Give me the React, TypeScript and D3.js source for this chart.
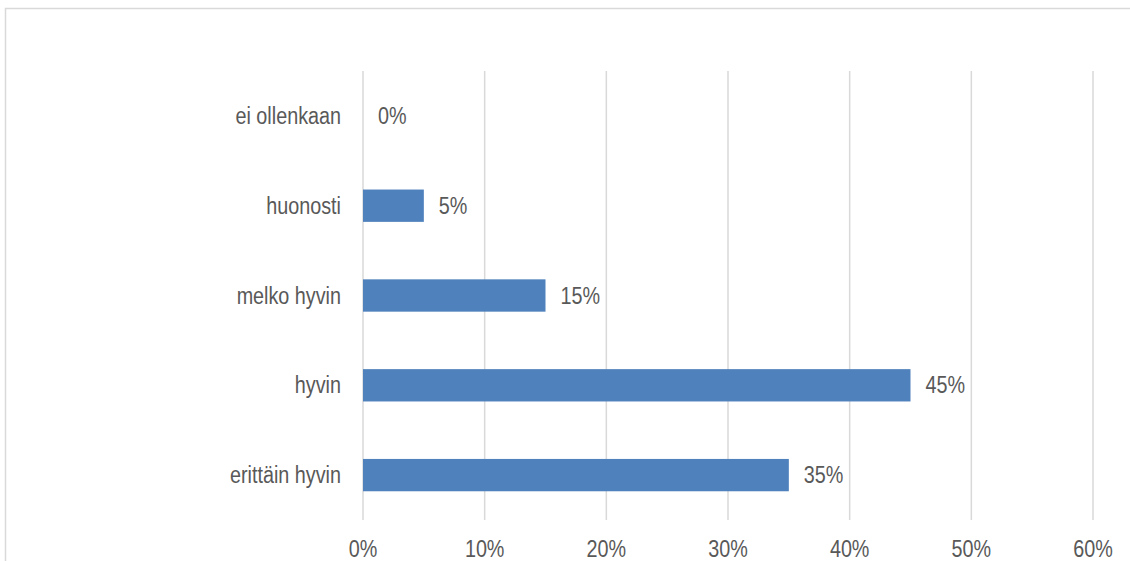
import React from "react";
import * as d3 from "d3";

const categories = ["ei ollenkaan", "huonosti", "melko hyvin", "hyvin", "erittäin hyvin"];
const values = [0, 0.05, 0.15, 0.45, 0.35];
const ticks = [0, 0.1, 0.2, 0.3, 0.4, 0.5, 0.6];

const W = 1130;
const H = 561;
const FONT = "'Liberation Sans', Arial, sans-serif";
const SX = 0.86;

function T({ x, y, anchor, children }: { x: number; y: number; anchor?: string; children: React.ReactNode }) {
  return (
    <text
      transform={`translate(${x},${y}) scale(${SX},1)`}
      textAnchor={anchor || "start"}
      fontFamily={FONT}
      fontSize={23}
      fill="#595959"
    >
      {children}
    </text>
  );
}

export default function App() {
  const x = d3.scaleLinear().domain([0, 0.6]).range([363, 1093]);
  const y = d3.scaleBand<string>().domain(categories).range([71, 520]).paddingInner(0.64).paddingOuter(0.32);
  const fmt = d3.format(".0%");
  return (
    <svg width={W} height={H} style={{ position: "absolute", left: 0, top: 0, background: "#fff" }}>
      <rect x={5.5} y={8.5} width={1200} height={600} fill="#fff" stroke="#D9D9D9" strokeWidth={1.5} />
      {ticks.map((t) => (
        <g key={t}>
          <line x1={x(t)} x2={x(t)} y1={71} y2={520} stroke="#D9D9D9" strokeWidth={1.5} />
          <T x={x(t)} y={557} anchor="middle">
            {fmt(t)}
          </T>
        </g>
      ))}
      {categories.map((c, i) => {
        const cy = (y(c) as number) + y.bandwidth() / 2;
        return (
          <g key={c}>
            <T x={341} y={cy + 8} anchor="end">
              {c}
            </T>
            {values[i] > 0 && (
              <rect x={x(0)} y={y(c)} width={x(values[i]) - x(0)} height={y.bandwidth()} fill="#4F81BD" />
            )}
            <T x={x(values[i]) + 15} y={cy + 8}>
              {fmt(values[i])}
            </T>
          </g>
        );
      })}
    </svg>
  );
}
